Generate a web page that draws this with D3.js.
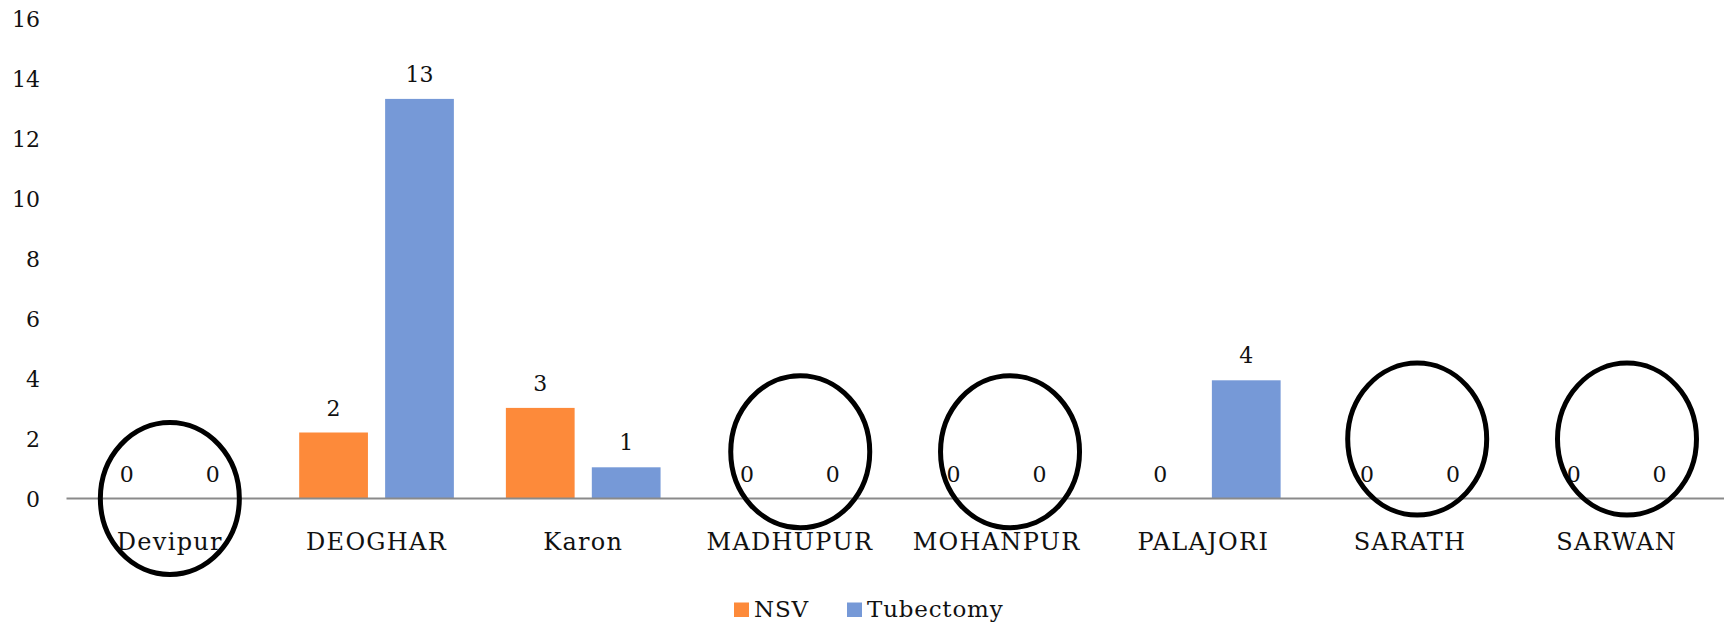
<!DOCTYPE html>
<html>
<head>
<meta charset="utf-8">
<script src="https://cdn.jsdelivr.net/npm/d3@7"></script>
<style>
  html, body { margin: 0; padding: 0; background: #fff; }
  svg { display: block; }
  text { font-family: "DejaVu Serif", "Liberation Serif", serif; fill: #111; }
</style>
</head>
<body>
<svg id="chart" width="1727" height="624"></svg>
<script>
// ---- data ----
const categories = ["Devipur", "DEOGHAR", "Karon", "MADHUPUR", "MOHANPUR", "PALAJORI", "SARATH", "SARWAN"];
const seriesNames = ["NSV", "Tubectomy"];
const nsvValues = [0, 2.2, 3.02, 0, 0, 0, 0, 0];
const tubectomyValues = [0, 13.32, 1.04, 0, 0, 3.94, 0, 0];
const yTicks = [0, 2, 4, 6, 8, 10, 12, 14, 16];
// hand-drawn highlight ellipses: category, centre value, horizontal shift (fraction of step)
const circledCategories = ["Devipur", "MADHUPUR", "MOHANPUR", "SARATH", "SARWAN"];
const circleCentreValues = [0, 1.56, 1.56, 1.98, 1.98];
const circleShift = [0, 0.05, 0.065, 0.035, 0.05];

const colors = { NSV: "#FD8A3A", Tubectomy: "#7699D7" };

const svg = d3.select("#chart");
const left = 66.5, right = 1720, yZero = 498.5, yTop = 18.5;

const x0 = d3.scaleBand().domain(categories).range([left, right])
  .paddingInner(0.2516).paddingOuter(0.1258);
const x1 = d3.scaleBand().domain(seriesNames).range([0, x0.bandwidth()])
  .paddingInner(0.2).paddingOuter(0);
const y = d3.scaleLinear().domain([0, 16]).range([yZero, yTop]);

const rows = categories.map((c, i) => ({ cat: c, vals: [
  { s: "NSV", v: nsvValues[i] }, { s: "Tubectomy", v: tubectomyValues[i] } ] }));

// y tick labels (no axis line, no gridlines)
const yAxis = d3.axisLeft(y).tickValues(yTicks).tickSize(0).tickPadding(0);
const gy = svg.append("g").attr("transform", `translate(40,0)`).call(yAxis);
gy.select(".domain").remove();
gy.selectAll("text").style("font-family", '"DejaVu Serif", serif').style("font-size", "22px")
  .attr("fill", "#111").attr("dy", "0.36em");

// bars
const groups = svg.append("g").selectAll("g").data(rows).join("g")
  .attr("transform", d => `translate(${x0(d.cat)},0)`);
groups.selectAll("rect").data(d => d.vals).join("rect")
  .attr("x", d => x1(d.s)).attr("width", x1.bandwidth())
  .attr("y", d => y(d.v)).attr("height", d => y(0) - y(d.v))
  .attr("fill", d => colors[d.s]);
groups.selectAll("text").data(d => d.vals).join("text")
  .attr("x", d => x1(d.s) + x1.bandwidth() / 2)
  .attr("y", d => y(d.v) - 17)
  .attr("text-anchor", "middle").style("font-size", "22px")
  .text(d => d3.format(".0f")(d.v));

// category axis
const xAxis = d3.axisBottom(x0).tickSize(0).tickPadding(0);
const gx = svg.append("g").attr("transform", `translate(0,${yZero})`).call(xAxis);
gx.select(".domain").remove();
gx.selectAll("text").style("font-family", '"DejaVu Serif", serif').style("font-size", "24px")
  .style("letter-spacing", "1.3px")
  .attr("fill", "#111").attr("dy", "0").attr("y", 51);
svg.append("line").attr("x1", left).attr("x2", 1724).attr("y1", yZero).attr("y2", yZero)
  .attr("stroke", "#8a8a8a").attr("stroke-width", 2);

// highlight ellipses
svg.append("g").selectAll("ellipse").data(circledCategories).join("ellipse")
  .attr("cx", (c, i) => x0(c) + x0.bandwidth() / 2 + circleShift[i] * x0.step())
  .attr("cy", (c, i) => y(circleCentreValues[i]))
  .attr("rx", 69.5).attr("ry", 76)
  .attr("fill", "none").attr("stroke", "#000").attr("stroke-width", 5);

// legend
const legend = svg.append("g");
const legendX = [734, 847];
seriesNames.forEach((s, i) => {
  legend.append("rect").attr("x", legendX[i]).attr("y", 602.5).attr("width", 15).attr("height", 14.5)
    .attr("fill", colors[s]);
  legend.append("text").attr("x", legendX[i] + 20).attr("y", 617).style("font-size", "23px")
    .style("letter-spacing", "0.8px").text(s);
});
</script>
</body>
</html>
